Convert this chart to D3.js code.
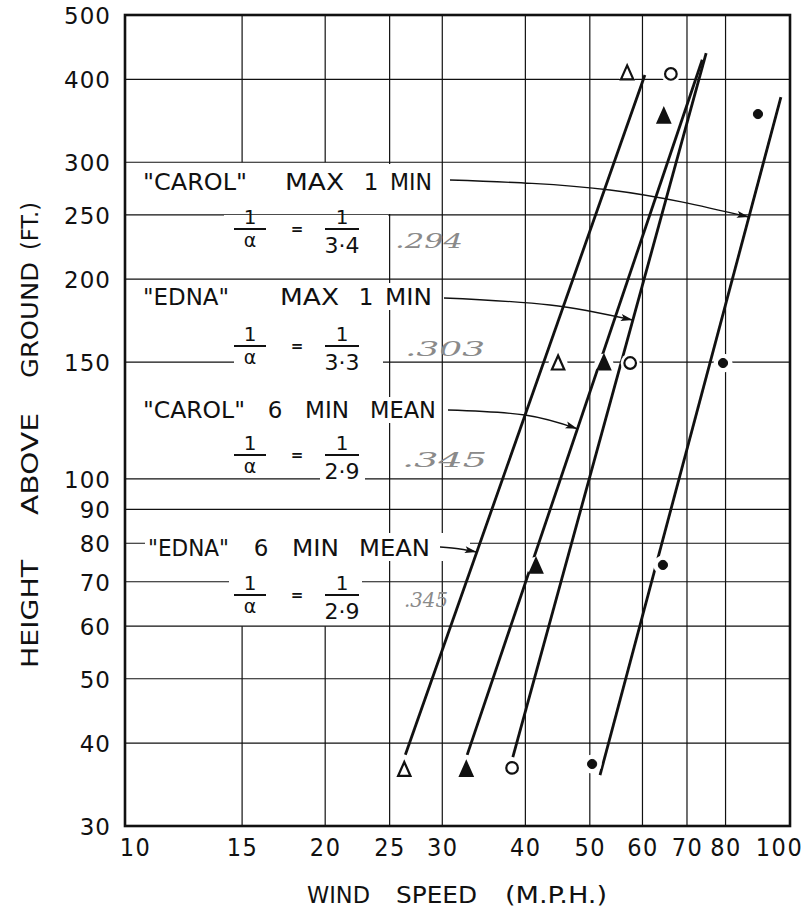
<!DOCTYPE html>
<html><head><meta charset="utf-8">
<script src="https://cdn.jsdelivr.net/npm/d3@7"></script>
<style>
html,body{margin:0;padding:0;background:#fff;}
svg{display:block;}
</style></head><body>
<svg id="chart" width="812" height="912"></svg>
<script>
// ---------------- DATA ----------------
const xTicks = [10, 15, 20, 25, 30, 40, 50, 60, 70, 80, 100];
const yTicks = [30, 40, 50, 60, 70, 80, 90, 100, 150, 200, 250, 300, 400, 500];
const vGridValues = [15, 20, 25, 30, 40, 50, 60, 70, 80];
const hGridValues = [40, 50, 60, 70, 80, 90, 100, 150, 200, 250, 300, 400];

const seriesNames = ["\"EDNA\" 6 MIN MEAN", "\"CAROL\" 6 MIN MEAN", "\"EDNA\" MAX 1 MIN", "\"CAROL\" MAX 1 MIN"];
const seriesSymbols = ["triangle-open", "triangle-filled", "circle-open", "circle-filled"];

// observed points (wind speed mph, height ft)
const edna6Speed   = [26.3, 44.8, 56.9];
const edna6Height  = [36.5, 149.5, 409];
const carol6Speed  = [32.6, 41.5, 52.5, 64.6];
const carol6Height = [36.5, 73.9, 149.5, 352];
const ednaMaxSpeed  = [38.2, 57.5, 66.2];
const ednaMaxHeight = [36.7, 149.5, 407.5];
const carolMaxSpeed  = [50.4, 64.4, 79.3, 89.5];
const carolMaxHeight = [37.2, 74.2, 149.5, 354.6];

// fitted power-law lines (end points: speed, height)
const edna6FitSpeed    = [26.4, 60.5];
const edna6FitHeight   = [38.4, 406];
const carol6FitSpeed   = [32.7, 73.8];
const carol6FitHeight  = [38.4, 428];
const ednaMaxFitSpeed  = [38.3, 74.8];
const ednaMaxFitHeight = [38.1, 438];
const carolMaxFitSpeed  = [51.8, 96.9];
const carolMaxFitHeight = [35.8, 376];

// exponents written on the chart (1/alpha = 1/den) and pencil notes
const alphaDenominators = ["3·4", "3·3", "2·9", "2·9"];
const pencilNotes = [".294", ".303", ".345", ".345"];
// heights at which the leader arrows meet each fitted line
const arrowHeights = [248, 173.5, 119, 77.6];

// ---------------- SETUP ----------------
const svg = d3.select("#chart");
const P = {left: 125, right: 790, top: 15, bottom: 826};
const x = d3.scaleLog().domain([10, 100]).range([P.left, P.right]);
const y = d3.scaleLog().domain([30, 500]).range([P.bottom, P.top]);

const series = [
  {sp: edna6Speed, h: edna6Height, fs: edna6FitSpeed, fh: edna6FitHeight},
  {sp: carol6Speed, h: carol6Height, fs: carol6FitSpeed, fh: carol6FitHeight},
  {sp: ednaMaxSpeed, h: ednaMaxHeight, fs: ednaMaxFitSpeed, fh: ednaMaxFitHeight},
  {sp: carolMaxSpeed, h: carolMaxHeight, fs: carolMaxFitSpeed, fh: carolMaxFitHeight}
].map((s, i) => ({...s, name: seriesNames[i], sym: seriesSymbols[i]}));

function pointOnFit(s, h) {
  const t = (Math.log(h) - Math.log(s.fh[0])) / (Math.log(s.fh[1]) - Math.log(s.fh[0]));
  const v = Math.exp(Math.log(s.fs[0]) + t * (Math.log(s.fs[1]) - Math.log(s.fs[0])));
  return [x(v), y(h)];
}

const INK = "#111";

// ---------------- GRID ----------------
const vSpans = {15: [[30, 60], [300, 500]], 20: [[30, 60], [300, 500]]};
const grid = svg.append("g");
vGridValues.forEach(v => {
  (vSpans[v] || [[30, 500]]).forEach(([a, b]) => {
    grid.append("line").attr("x1", x(v)).attr("x2", x(v)).attr("y1", y(a)).attr("y2", y(b))
      .attr("stroke", INK).attr("stroke-width", 1.2);
  });
});
hGridValues.forEach(h => {
  grid.append("line").attr("x1", x(10)).attr("x2", x(100)).attr("y1", y(h)).attr("y2", y(h))
    .attr("stroke", INK).attr("stroke-width", 1.2);
});

// ---------------- ANNOTATION LAYOUT (pixel layout) ----------------
const blocks = [
  {words: [["\"CAROL\"", 143, 247], ["MAX", 285, 344], ["1", 371], ["MIN", 390, 432]], base: 190, bar: 229,
   masks: [[135, 164, 305, 50], [224, 215, 164, 40]], note: [395, 248, 68], arrowStart: [450, 180], arrowMid: [610, 190], series: 3},
  {words: [["\"EDNA\"", 143, 229], ["MAX", 280, 339], ["1", 366], ["MIN", 385, 432]], base: 305, bar: 346,
   masks: [[135, 283, 305, 27], [234, 326, 149, 48]], note: [405, 356, 80], arrowStart: [444, 298], arrowMid: [550, 305], series: 2},
  {words: [["\"CAROL\"", 143, 245], ["6", 275], ["MIN", 305, 349], ["MEAN", 370, 436]], base: 418, bar: 455,
   masks: [[135, 397, 303, 26], [320, 462, 45, 24]], note: [402, 467, 85], arrowStart: [448, 410], arrowMid: [525, 415], series: 1},
  {words: [["\"EDNA\"", 148, 229], ["6", 261], ["MIN", 292, 339], ["MEAN", 359, 430]], base: 556, bar: 595,
   masks: [[145, 533, 325, 28], [229, 571, 133, 22]], note: [404, 607, 44], arrowStart: [440, 547], arrowMid: [460, 549], series: 0}
];

const maskG = svg.append("g");
blocks.forEach(b => b.masks.forEach(([mx, my, mw, mh]) => {
  maskG.append("rect").attr("x", mx).attr("y", my).attr("width", mw).attr("height", mh).attr("fill", "#fff");
}));

// ---------------- FRAME ----------------
svg.append("rect").attr("x", P.left).attr("y", P.top).attr("width", P.right - P.left).attr("height", P.bottom - P.top)
  .attr("fill", "none").attr("stroke", INK).attr("stroke-width", 2.6);

// ---------------- FITTED LINES ----------------
const lineGen = d3.line().x(d => x(d[0])).y(d => y(d[1]));
series.forEach(s => {
  svg.append("path").attr("d", lineGen([[s.fs[0], s.fh[0]], [s.fs[1], s.fh[1]]]))
    .attr("fill", "none").attr("stroke", INK).attr("stroke-width", 2.8).attr("stroke-linecap", "butt");
});

// ---------------- MARKERS ----------------
const triPath = "M0,-7.5 L6.2,6.5 L-6.2,6.5 Z";
series.forEach(s => {
  const pts = s.sp.map((v, i) => [v, s.h[i]]);
  const g = svg.append("g");
  g.selectAll("circle.halo").data(pts).join("circle").attr("class", "halo")
    .attr("cx", d => x(d[0])).attr("cy", d => y(d[1])).attr("r", 9.5).attr("fill", "#fff");
  if (s.sym.startsWith("triangle")) {
    g.selectAll("path.m").data(pts).join("path").attr("class", "m")
      .attr("transform", d => `translate(${x(d[0])},${y(d[1])})`).attr("d", triPath)
      .attr("fill", s.sym === "triangle-filled" ? INK : "#fff").attr("stroke", INK)
      .attr("stroke-width", 2.2).attr("stroke-linejoin", "miter");
  } else {
    g.selectAll("circle.m").data(pts).join("circle").attr("class", "m")
      .attr("cx", d => x(d[0])).attr("cy", d => y(d[1]))
      .attr("r", s.sym === "circle-filled" ? 4.6 : 5.8)
      .attr("fill", s.sym === "circle-filled" ? INK : "#fff").attr("stroke", INK)
      .attr("stroke-width", s.sym === "circle-filled" ? 1 : 2.2);
  }
});

// ---------------- ANNOTATIONS ----------------
const defs = svg.append("defs");
defs.append("marker").attr("id", "arr").attr("viewBox", "0 0 12 8").attr("refX", 12).attr("refY", 4)
  .attr("markerWidth", 13).attr("markerHeight", 8).attr("markerUnits", "userSpaceOnUse").attr("orient", "auto")
  .append("path").attr("d", "M0,0.5 L12,4 L0,7.5 L2.5,4 Z").attr("fill", INK);

const ann = svg.append("g").attr("font-family", "'DejaVu Sans', sans-serif").attr("fill", INK);
const curve = d3.line().curve(d3.curveNatural);
blocks.forEach((b, i) => {
  b.words.forEach(w => {
    const t = ann.append("text").attr("y", b.base).attr("font-size", 23).text(w[0]);
    if (w.length === 3) {
      t.attr("x", w[1]).attr("textLength", w[2] - w[1]).attr("lengthAdjust", "spacingAndGlyphs");
    } else {
      t.attr("x", w[1]).attr("text-anchor", "middle");
    }
  });
  // fraction 1/alpha = 1/den
  const lc = 250, rc = 342, eq = 297;
  ann.append("text").attr("x", lc).attr("y", b.bar - 5).attr("text-anchor", "middle").attr("font-size", 20).text("1");
  ann.append("line").attr("x1", lc - 16).attr("x2", lc + 16).attr("y1", b.bar).attr("y2", b.bar).attr("stroke", INK).attr("stroke-width", 2);
  ann.append("text").attr("x", lc).attr("y", b.bar + 18).attr("text-anchor", "middle").attr("font-size", 19).text("α");
  ann.append("text").attr("x", eq).attr("y", b.bar + 5).attr("text-anchor", "middle").attr("font-size", 15).attr("font-weight", "bold").text("=");
  ann.append("text").attr("x", rc).attr("y", b.bar - 5).attr("text-anchor", "middle").attr("font-size", 20).text("1");
  ann.append("line").attr("x1", rc - 17).attr("x2", rc + 17).attr("y1", b.bar).attr("y2", b.bar).attr("stroke", INK).attr("stroke-width", 2);
  ann.append("text").attr("x", rc).attr("y", b.bar + 24).attr("text-anchor", "middle").attr("font-size", 22).text(alphaDenominators[i]);
  // pencil note
  svg.append("text").attr("x", b.note[0]).attr("y", b.note[1]).attr("textLength", b.note[2]).attr("lengthAdjust", "spacingAndGlyphs")
    .attr("font-family", "'DejaVu Serif', serif").attr("font-style", "italic").attr("font-size", 21)
    .attr("fill", "#8a8a8a").text(pencilNotes[i]);
  // leader arrow
  const end = pointOnFit(series[b.series], arrowHeights[i]);
  svg.append("path").attr("d", curve([b.arrowStart, b.arrowMid, end])).attr("fill", "none")
    .attr("stroke", INK).attr("stroke-width", 1.3).attr("marker-end", "url(#arr)");
});

// ---------------- AXES ----------------
const yAxis = d3.axisLeft(y).tickValues(yTicks).tickSize(0).tickPadding(14).tickFormat(d => String(d));
const gy = svg.append("g").attr("transform", `translate(${P.left},0)`).call(yAxis);
gy.select(".domain").remove();
gy.selectAll("text").attr("font-family", "'DejaVu Sans', sans-serif").attr("font-size", 23)
  .attr("letter-spacing", 1).attr("fill", INK).attr("dy", "0.36em");

const xAxis = d3.axisBottom(x).tickValues(xTicks).tickSize(0).tickPadding(12).tickFormat(d => String(d));
const gx = svg.append("g").attr("transform", `translate(0,${P.bottom})`).call(xAxis);
gx.select(".domain").remove();
gx.selectAll("text").attr("font-family", "'DejaVu Sans Condensed', 'Liberation Sans Narrow', sans-serif")
  .attr("font-size", 25).attr("letter-spacing", 1.5).attr("fill", INK)
  .attr("dx", d => d === 10 ? 10 : (d === 100 ? -11 : 0));

// axis titles
const condensed = "'DejaVu Sans Condensed', 'Liberation Sans Narrow', sans-serif";
const xTitleWords = [["WIND", 307, 370], ["SPEED", 396, 477], ["(M.P.H.)", 505, 607]];
xTitleWords.forEach(w => svg.append("text").attr("x", w[1]).attr("y", 903).attr("textLength", w[2] - w[1])
  .attr("lengthAdjust", "spacingAndGlyphs").attr("font-family", condensed).attr("font-size", 23).attr("fill", INK).text(w[0]));

const yTitleWords = [["HEIGHT", 668, 560], ["ABOVE", 515, 413], ["GROUND", 378, 262], ["(FT.)", 250, 202]];
yTitleWords.forEach(w => svg.append("text").attr("transform", `translate(38,${w[1]}) rotate(-90)`)
  .attr("x", 0).attr("y", 0).attr("textLength", w[1] - w[2]).attr("lengthAdjust", "spacingAndGlyphs")
  .attr("font-family", condensed).attr("font-size", 23).attr("fill", INK).text(w[0]));
</script></body></html>
